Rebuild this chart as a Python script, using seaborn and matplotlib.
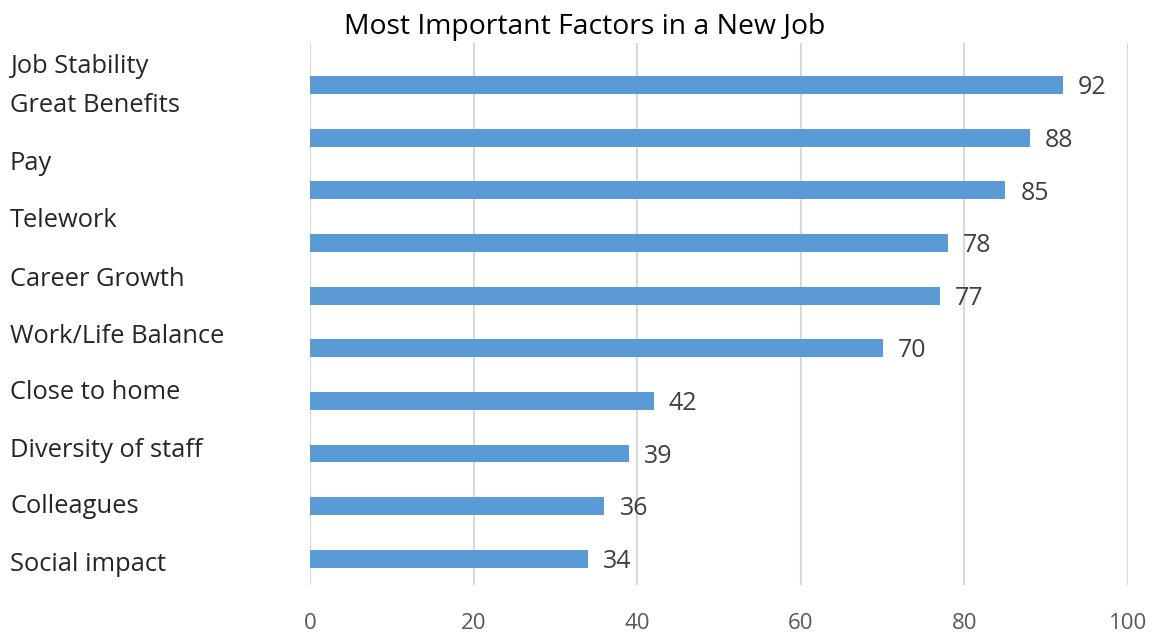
import matplotlib
matplotlib.use("Agg")
import matplotlib.pyplot as plt
import seaborn as sns
import pandas as pd

# Survey results: share of respondents naming each factor
factors = ["Job Stability", "Great Benefits", "Pay", "Telework", "Career Growth",
           "Work/Life Balance", "Close to home", "Diversity of staff", "Colleagues",
           "Social impact"]
scores = [92, 88, 85, 78, 77, 70, 42, 39, 36, 34]
x_ticks = [0, 20, 40, 60, 80, 100]
title = "Most Important Factors in a New Job"

df = pd.DataFrame({"factor": factors, "score": scores})

sns.set_theme(style="white")
plt.rcParams["font.family"] = ["Open Sans", "DejaVu Sans"]

W, H = 1156, 639
fig = plt.figure(figsize=(W / 100, H / 100), dpi=100)
ax = fig.add_axes([310 / W, 1 - 585 / H, (1128 - 310) / W, (585 - 43) / H])

sns.barplot(data=df, x="score", y="factor", orient="h", color="#5B9BD5",
            saturation=1, width=0.34, ax=ax, edgecolor="none")

ax.set_xlim(0, 100)
ax.set_ylim(9.5, -0.8)
ax.set_xticks(x_ticks)
ax.set_xticklabels([str(t) for t in x_ticks], fontsize=16, color="#595959")
ax.tick_params(axis="x", length=0, pad=20)
ax.set_yticks([])
ax.set_xlabel("")
ax.set_ylabel("")
for s in ax.spines.values():
    s.set_visible(False)
ax.grid(axis="x", color="#D9D9D9", linewidth=1.5)
ax.set_axisbelow(True)

# value labels at the end of each bar
for i, v in enumerate(scores):
    ax.annotate(str(v), xy=(v, i), xytext=(11, -2), textcoords="offset points",
                ha="left", va="center", fontsize=18, color="#404040")

# category names down the left edge
baselines = [73, 112, 170, 227, 286, 343, 399, 457, 513, 571]
for name, yb in zip(factors, baselines):
    fig.text(10 / W, 1 - yb / H, name, ha="left", va="baseline",
             fontsize=18.4, color="#262626")

fig.text(585 / W, 1 - 34 / H, title, ha="center", va="baseline",
         fontsize=20.4, color="#000000")

fig.savefig("out.png", dpi=100)
